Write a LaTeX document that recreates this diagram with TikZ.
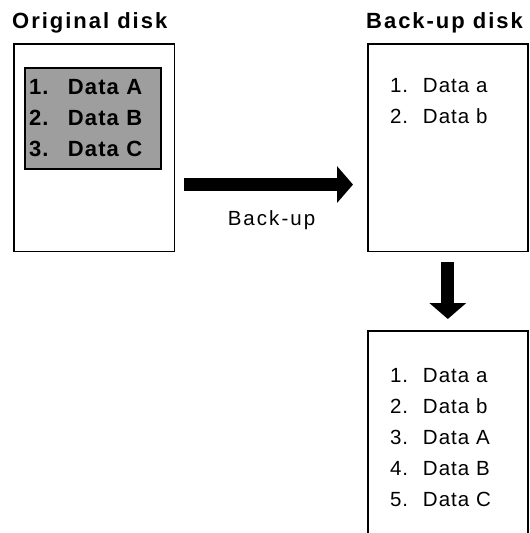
\documentclass[tikz,border=0pt]{standalone}
\usepackage{fontspec}
\setmainfont{Liberation Sans}
\newfontfamily\headfont[LetterSpace=9]{Liberation Sans}
\newfontfamily\listfont[LetterSpace=5]{Liberation Sans}
\newfontfamily\boldlistfont[LetterSpace=5]{Liberation Sans}
\usepackage{tikz}
\usetikzlibrary{arrows.meta,positioning}

\newcommand{\entry}[2]{\makebox[33pt][l]{#1.}#2}
\newcommand{\boldentry}[2]{\makebox[39pt][l]{#1.}#2}

\begin{document}
\begin{tikzpicture}[
x=1pt, y=-1pt,
title/.style={font=\headfont\bfseries\fontsize{22}{26}\selectfont, inner sep=0pt, anchor=base west},
disk/.style={draw, line width=1.6pt, inner sep=0pt, outer sep=0pt, minimum width=160.5pt, minimum height=207.5pt},
filelist/.style={font=\listfont\fontsize{20.5}{31}\selectfont, align=left, inner sep=0pt, anchor=north west},
files/.style={draw, line width=1.2pt, fill=black!38, outer sep=0pt, minimum width=136pt, minimum height=101pt, text width=128pt, inner xsep=4pt, align=left, anchor=north west, font=\boldlistfont\bfseries\fontsize{22}{31}\selectfont},
arr/.style={line width=13pt, -{Triangle[length=16pt, width=36pt]}}
]
\useasboundingbox (0,0) rectangle (530,533);
\node[disk, anchor=north west] (orig) at (13.8,43.8) {};
\node[disk, minimum width=160pt, right=193.5pt of orig] (backup) {};
\node[disk, draw=none, minimum width=160pt, minimum height=202.2pt, below=79.5pt of backup] (merged) {};
\draw[line width=1.6pt] (merged.south west) -- (merged.north west) -- (merged.north east) -- (merged.south east);
\node[title] (origtitle) at ([xshift=-1.8pt, yshift=15.8pt]orig.north west) {Original disk};
\node[title] (backtitle) at ([xshift=-1.8pt, yshift=15.8pt]backup.north west) {Back-up disk};
\node[files] (origfiles) at ([xshift=11.2pt, yshift=-24.2pt]orig.north west) {\boldentry{1}{Data A}\\ \boldentry{2}{Data B}\\ \boldentry{3}{Data C}};
\node[filelist] (backlist) at ([xshift=22pt, yshift=-34.5pt]backup.north west) {\entry{1}{Data a}\\ \entry{2}{Data b}};
\node[filelist] (mergedlist) at ([xshift=22pt, yshift=-37.5pt]merged.north west) {\entry{1}{Data a}\\ \entry{2}{Data b}\\ \entry{3}{Data A}\\ \entry{4}{Data B}\\ \entry{5}{Data C}};
\draw[arr] ([xshift=9.7pt, yshift=-37pt]orig.east) -- ([xshift=-14.8pt, yshift=-37pt]backup.west);
\node[font=\listfont\addfontfeature{LetterSpace=10}\fontsize{20.5}{24}\selectfont, anchor=base] (copylabel) at (271.5,225.5) {Back-up};
\draw[arr] ([yshift=-10.7pt]backup.south) -- ([yshift=11.8pt]merged.north);
\end{tikzpicture}
\end{document}
